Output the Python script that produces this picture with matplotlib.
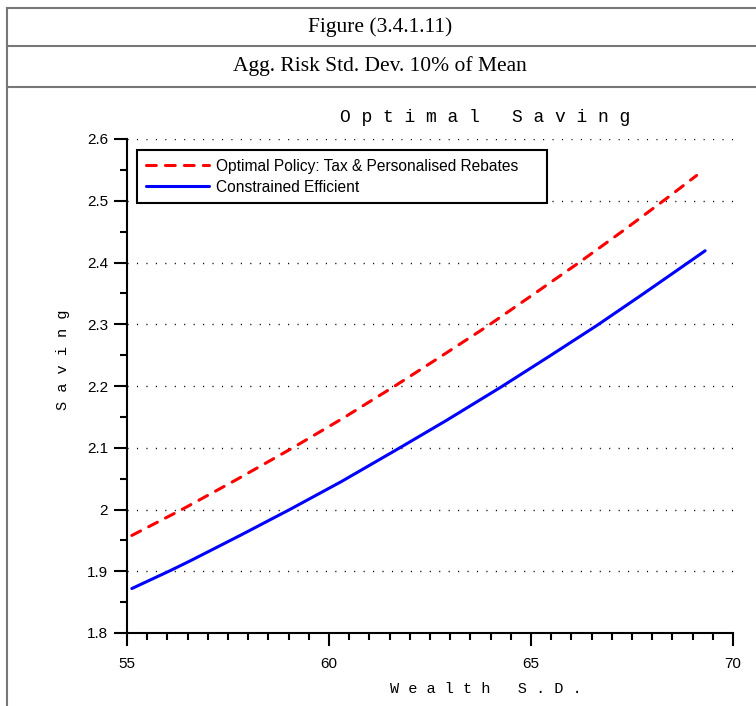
import numpy as np
import matplotlib
matplotlib.use("Agg")
import matplotlib.pyplot as plt
from matplotlib.lines import Line2D
from matplotlib.ticker import MultipleLocator

# data
x_policy = [55.12, 56.36, 57.70, 59.08, 60.35, 61.63, 62.75, 63.90, 65.05, 66.17, 67.25, 68.34, 69.10]
y_policy = [1.958, 2.000, 2.048, 2.099, 2.148, 2.200, 2.247, 2.296, 2.348, 2.399, 2.450, 2.503, 2.541]

x_ce = [55.12, 56.07, 56.57, 57.80, 59.03, 60.30, 61.65, 62.90, 64.25, 65.45, 66.63, 67.75, 68.85, 69.31]
y_ce = [1.872, 1.901, 1.917, 1.958, 2.000, 2.045, 2.096, 2.144, 2.198, 2.248, 2.298, 2.348, 2.398, 2.419]

labels = ["Optimal Policy: Tax & Personalised Rebates", "Constrained Efficient"]

W, H = 756, 706
fig = plt.figure(figsize=(W / 100, H / 100), dpi=100)

# table frame around the figure
def hline(y, x0=7, x1=756):
    fig.add_artist(Line2D([x0 / W, x1 / W], [1 - y / H, 1 - y / H],
                          color="#777777", lw=1.5))

hline(7.5)
hline(46)
hline(87)
fig.add_artist(Line2D([7 / W, 7 / W], [1 - 7.5 / H, 0], color="#777777", lw=1.5))

serif = "Liberation Serif"
fig.text(380 / W, 1 - 27 / H, "Figure (3.4.1.11)", ha="center", va="center",
         family=serif, fontsize=15.5)
fig.text(380 / W, 1 - 66 / H, "Agg. Risk Std. Dev. 10% of Mean", ha="center",
         va="center", family=serif, fontsize=15.5)

ax = fig.add_axes([127 / W, 1 - 633 / H, 606 / W, 494 / H])
ax.plot(x_policy, y_policy, color="red", lw=2.2, dashes=(3.2, 3.0),
        dash_capstyle="round", label=labels[0])
ax.plot(x_ce, y_ce, color="blue", lw=2.2, solid_capstyle="round", label=labels[1])

ax.set_xlim(55, 70)
ax.set_ylim(1.8, 2.6)
ax.xaxis.set_major_locator(MultipleLocator(5))
ax.xaxis.set_minor_locator(MultipleLocator(0.5))
ax.yaxis.set_major_locator(MultipleLocator(0.1))
ax.yaxis.set_minor_locator(MultipleLocator(0.05))
ax.set_yticks(np.round(np.arange(1.8, 2.61, 0.1), 1))
ax.set_yticklabels(["1.8", "1.9", "2", "2.1", "2.2", "2.3", "2.4", "2.5", "2.6"])

for s in ["top", "right"]:
    ax.spines[s].set_visible(False)
for s in ["left", "bottom"]:
    ax.spines[s].set_linewidth(1.5)
    ax.spines[s].set_color("black")

ax.tick_params(which="major", direction="out", length=9.5, width=1.5,
               labelsize=11)
ax.tick_params(axis="x", which="major", pad=7.5)
ax.tick_params(axis="y", which="major", pad=4)
ax.tick_params(which="minor", direction="out", length=5, width=1.5)
for lab in ax.get_xticklabels() + ax.get_yticklabels():
    lab.set_family("Liberation Sans")

ax.yaxis.grid(True, which="major", linestyle=(0, (0.8, 6)), color="black", lw=1.0)
ax.set_axisbelow(True)

mono = "Liberation Mono"
fig.text(485 / W, 1 - 118 / H, "O p t i m a l   S a v i n g", ha="center",
         va="center", family=mono, fontsize=13)
fig.text(486 / W, 1 - 689 / H, "W e a l t h   S . D .", ha="center",
         va="center", family=mono, fontsize=11)
fig.text(63 / W, 1 - 360 / H, "S a v i n g", ha="center", va="center",
         family=mono, fontsize=11, rotation=90)

leg = ax.legend(loc="upper left",
                bbox_to_anchor=(10 / 606, 1 - 11 / 494, 410 / 606, 0),
                mode="expand",
                prop={"family": "Liberation Sans", "size": 11.2}, frameon=True,
                fancybox=False, framealpha=1, handlelength=4.1,
                handletextpad=0.4, borderpad=0.55, labelspacing=0.4,
                borderaxespad=0)
leg.get_frame().set_edgecolor("black")
leg.get_frame().set_linewidth(1.5)

fig.savefig("out.png", dpi=100)
